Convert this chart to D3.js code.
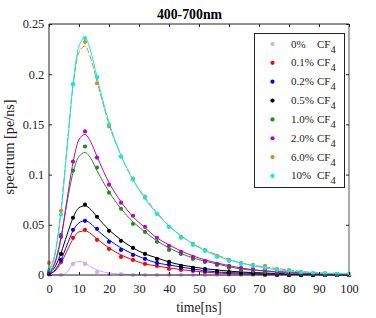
<!DOCTYPE html>
<html><head><meta charset="utf-8">
<script src="https://cdn.jsdelivr.net/npm/d3@7"></script>
<style>body{margin:0;background:#fff}svg{display:block}svg text{font-family:"Liberation Serif","Times New Roman","DejaVu Serif",serif !important}</style>
</head><body><svg id="c" width="376" height="318" font-family="Liberation Serif"></svg>
<script>
const labels = ["0%","0.1%","0.2%","0.5%","1.0%","2.0%","6.0%","10%"];
const colors = ["#cfaaf5","#ff0000","#0000ff","#000000","#1e8c1e","#c000c0","#e8861c","#00f0f0"];
const pointT = [0,4,8,12,16,20,24,28,32,36,40,44,48,52,56,60,64,68,72,76,80,84,88,92,96,100];
const p0  = [0,0,0.011,0.011,0.003,0.001,0.001,0,0,0,0,0,0,0,0,0,0,0,0,0,0,0,0,0,0,0];
const p01 = [0.001,0.013,0.037,0.045,0.035,0.026,0.018,0.015,0.011,0.009,0.006,0.005,0.004,0.003,0.002,0.001,0.001,0.001,0,0,0,0,0,0,0,0];
const p02 = [0.001,0.015,0.045,0.054,0.046,0.033,0.025,0.020,0.016,0.012,0.010,0.007,0.005,0.004,0.003,0.002,0.002,0.001,0.001,0,0,0,0,0,0,0];
const p05 = [0.002,0.021,0.057,0.070,0.058,0.044,0.034,0.027,0.021,0.016,0.013,0.009,0.007,0.006,0.004,0.003,0.002,0.002,0.001,0.001,0,0,0,0,0,0];
const p10 = [0.003,0.040,0.104,0.128,0.107,0.082,0.066,0.051,0.043,0.033,0.025,0.021,0.016,0.013,0.010,0.007,0.005,0.004,0.003,0.002,0.001,0.001,0.001,0,0,0];
const p20 = [0.003,0.038,0.113,0.143,0.117,0.090,0.072,0.059,0.048,0.037,0.029,0.023,0.018,0.014,0.011,0.009,0.007,0.006,0.005,0.003,0.002,0.002,0.001,0.001,0.001,0];
const p60 = [0.012,0.064,0.190,0.232,0.191,0.148,0.118,0.096,0.078,0.061,0.048,0.038,0.031,0.025,0.019,0.015,0.012,0.010,0.009,0.006,0.005,0.003,0.002,0.002,0.001,0.001];
const p100= [0.005,0.060,0.190,0.236,0.197,0.150,0.118,0.095,0.077,0.061,0.048,0.037,0.030,0.024,0.018,0.014,0.011,0.009,0.007,0.005,0.004,0.003,0.002,0.0015,0.001,0.001];
const curveT = [0,2,4,6,8,10,12,14,16,20,24,28,32,36,40,48,56,64,72,80,90,100];
const c0  = [0,0,0,0.003,0.011,0.0135,0.012,0.008,0.005,0.002,0.001,0.0003,0,0,0,0,0,0,0,0,0,0];
const c01 = [0.001,0.004,0.012,0.024,0.036,0.043,0.044,0.041,0.036,0.027,0.020,0.015,0.011,0.009,0.007,0.004,0.002,0.001,0.0006,0.0003,0.0001,0];
const c02 = [0.001,0.005,0.015,0.030,0.044,0.052,0.054,0.051,0.045,0.035,0.027,0.021,0.016,0.012,0.010,0.006,0.003,0.002,0.001,0.0006,0.0003,0.0001];
const c05 = [0.002,0.008,0.022,0.040,0.057,0.067,0.069,0.065,0.058,0.045,0.035,0.027,0.021,0.017,0.013,0.008,0.005,0.003,0.002,0.001,0.0005,0.0002];
const c10 = [0.003,0.013,0.038,0.072,0.102,0.118,0.122,0.116,0.104,0.083,0.066,0.053,0.043,0.034,0.027,0.017,0.011,0.006,0.004,0.002,0.001,0.0005];
const c20 = [0.003,0.012,0.036,0.075,0.112,0.135,0.140,0.132,0.118,0.092,0.073,0.058,0.047,0.037,0.030,0.019,0.012,0.007,0.004,0.003,0.001,0.0005];
const c60 = [0.005,0.022,0.065,0.128,0.188,0.222,0.228,0.215,0.193,0.150,0.119,0.095,0.077,0.062,0.049,0.031,0.020,0.012,0.008,0.005,0.002,0.001];
const c100= [0.005,0.020,0.062,0.125,0.190,0.228,0.236,0.222,0.197,0.152,0.119,0.095,0.076,0.061,0.049,0.031,0.019,0.012,0.007,0.004,0.002,0.001];
const points = [p0,p01,p02,p05,p10,p20,p60,p100];
const curves = [c0,c01,c02,c05,c10,c20,c60,c100];
const xTicks = [0,10,20,30,40,50,60,70,80,90,100];
const yTicks = [0,0.05,0.1,0.15,0.2,0.25];

const svg = d3.select("#c");
const L=49, R=349, T=24, B=275;
const x = d3.scaleLinear().domain([0,100]).range([L,R]);
const y = d3.scaleLinear().domain([0,0.25]).range([B,T]);
const FONT = "Liberation Serif";

const line = d3.line().curve(d3.curveMonotoneX);
const order = [0,1,2,3,4,5,6,7];
order.forEach(i=>{
  svg.append("path").attr("d", line(curveT.map((t,j)=>[x(t),y(curves[i][j])])))
    .attr("fill","none").attr("stroke",colors[i]).attr("stroke-width",1)
    .attr("stroke-dasharray", i===6 ? "6,2" : null);
});
order.forEach(i=>{
  svg.append("g").selectAll("circle").data(pointT).join("circle")
    .attr("cx",(t)=>x(t)).attr("cy",(t,j)=>y(points[i][j])).attr("r",2.1).attr("fill",colors[i]);
});

svg.append("line").attr("x1",L).attr("x2",R).attr("y1",T).attr("y2",T).attr("stroke","#222");
svg.append("line").attr("x1",L).attr("x2",R).attr("y1",B).attr("y2",B).attr("stroke","#222");
svg.append("line").attr("x1",L).attr("x2",L).attr("y1",T).attr("y2",B).attr("stroke","#222");
svg.append("line").attr("x1",R).attr("x2",R).attr("y1",T).attr("y2",B).attr("stroke","#aaa").attr("stroke-width",2);

const ax = svg.append("g").attr("transform",`translate(0,${B})`).call(d3.axisBottom(x).tickValues(xTicks).tickSize(-3).tickPadding(9).tickFormat(d3.format("d")));
const ay = svg.append("g").attr("transform",`translate(${L},0)`).call(d3.axisLeft(y).tickValues(yTicks).tickSize(-3).tickPadding(4.7).tickFormat(d=>d===0?"0":String(d)));
[ax,ay].forEach(a=>{a.attr("font-family",FONT);a.select(".domain").remove();a.selectAll("text").attr("font-size",12.4).attr("fill","#222");a.selectAll("line").attr("stroke","#222");});
svg.append("g").attr("transform",`translate(0,${T})`).call(d3.axisTop(x).tickValues(xTicks).tickSize(-3).tickFormat("")).call(g=>{g.select(".domain").remove();g.selectAll("line").attr("stroke","#222");});
svg.append("g").attr("transform",`translate(${R},0)`).call(d3.axisRight(y).tickValues(yTicks).tickSize(-3).tickFormat("")).call(g=>{g.select(".domain").remove();g.selectAll("line").attr("stroke","#222");});

svg.append("text").attr("x",189.5).attr("y",19).attr("text-anchor","middle").attr("font-weight","bold").attr("font-size",13.8).text("400-700nm");
svg.append("text").attr("x",199).attr("y",312).attr("text-anchor","middle").attr("font-size",13.7).attr("fill","#222").text("time[ns]");
svg.append("text").attr("transform","translate(13.7,147) rotate(-90)").attr("text-anchor","middle").attr("font-size",14.2).attr("fill","#222").text("spectrum [pe/ns]");

const lg = svg.append("g");
lg.append("rect").attr("x",254.5).attr("y",33.5).attr("width",90).attr("height",154).attr("fill","#fff").attr("stroke","#222");
labels.forEach((lab,i)=>{
  const yy = 44 + i*18.85;
  lg.append("circle").attr("cx",272.5).attr("cy",yy).attr("r",2.1).attr("fill",colors[i]);
  lg.append("text").attr("x",291).attr("y",yy+3.5).attr("font-size",11).attr("fill","#222").text(lab);
  lg.append("text").attr("x",317).attr("y",yy+3.5).attr("font-size",11).attr("fill","#222").text("CF");
  lg.append("text").attr("x",330.5).attr("y",yy+8.5).attr("font-size",10.5).attr("fill","#222").text("4");
});
</script></body></html>
